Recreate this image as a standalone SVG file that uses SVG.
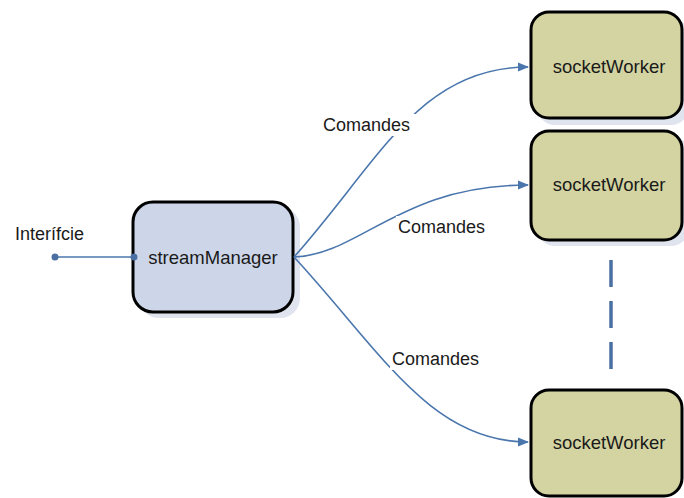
<svg xmlns="http://www.w3.org/2000/svg" width="684" height="498" viewBox="0 0 684 498">
  <style>
    .lbl { font-family: "Liberation Sans", Arial, sans-serif; font-size: 18px; fill: #1a1a1a; }
    .name { font-family: "Liberation Sans", Arial, sans-serif; font-size: 18.5px; fill: #1a1a1a; text-anchor: middle; }
    .mgr { fill: #cdd6e9; stroke: #000; stroke-width: 3; }
    .wrk { fill: #d3d4a1; stroke: #000; stroke-width: 3; }
    .shadow { fill: #dfe4ee; }
    .conn { fill: none; stroke: #4a76ad; stroke-width: 1.6; }
    .dash { fill: none; stroke: #4a70a3; stroke-width: 3.5; stroke-dasharray: 27 14; }
    .tagbg { fill: #ffffff; }
  </style>
  <defs>
    <marker id="arrow" viewBox="0 0 10 10" refX="9" refY="5" markerWidth="7" markerHeight="7" orient="auto" markerUnits="strokeWidth">
      <path d="M0,1 L10,5 L0,9 Z" fill="#4a76ad"/>
    </marker>
  </defs>
  <rect width="684" height="498" fill="#ffffff"/>

  <!-- manager node -->
  <g id="streamManager">
    <rect class="shadow" x="139" y="207" width="161" height="111" rx="20"/>
    <rect class="mgr" x="133" y="202" width="160" height="110" rx="20"/>
    <text class="name" x="213" y="264">streamManager</text>
  </g>

  <!-- worker nodes -->
  <g id="socketWorker1">
    <rect class="shadow" x="537" y="18" width="152" height="107" rx="18"/>
    <rect class="wrk" x="531" y="12" width="151" height="106" rx="18"/>
    <text class="name" x="609" y="73">socketWorker</text>
  </g>
  <g id="socketWorker2">
    <rect class="shadow" x="537" y="136" width="152" height="110" rx="18"/>
    <rect class="wrk" x="531" y="131" width="151" height="109" rx="18"/>
    <text class="name" x="609" y="191">socketWorker</text>
  </g>
  <g id="socketWorker3">
    <rect class="wrk" x="531" y="390" width="151" height="106" rx="18"/>
    <text class="name" x="609" y="449">socketWorker</text>
  </g>

  <!-- connectors -->
  <g id="connectors">
    <line class="conn" x1="55" y1="257" x2="134" y2="257"/>
    <circle cx="55" cy="257" r="3.5" fill="#4a70a3"/>
    <circle cx="134" cy="257" r="3.5" fill="#4a70a3"/>
    <path class="conn" d="M294,257 C380,160 420,67 528,67" marker-end="url(#arrow)"/>
    <path class="conn" d="M294,257 C360,255 400,185 528,185" marker-end="url(#arrow)"/>
    <path class="conn" d="M294,257 C380,350 430,442 528,442" marker-end="url(#arrow)"/>
    <path class="dash" d="M611,260 V372"/>
    <rect class="tagbg" x="321" y="114" width="96" height="22"/>
    <text class="lbl" x="323" y="131">Comandes</text>
    <rect class="tagbg" x="396" y="216" width="96" height="22"/>
    <text class="lbl" x="398" y="233">Comandes</text>
    <rect class="tagbg" x="390" y="348" width="96" height="22"/>
    <text class="lbl" x="392" y="365">Comandes</text>
    <text class="lbl" x="15" y="240">Interífcie</text>
  </g>
</svg>
